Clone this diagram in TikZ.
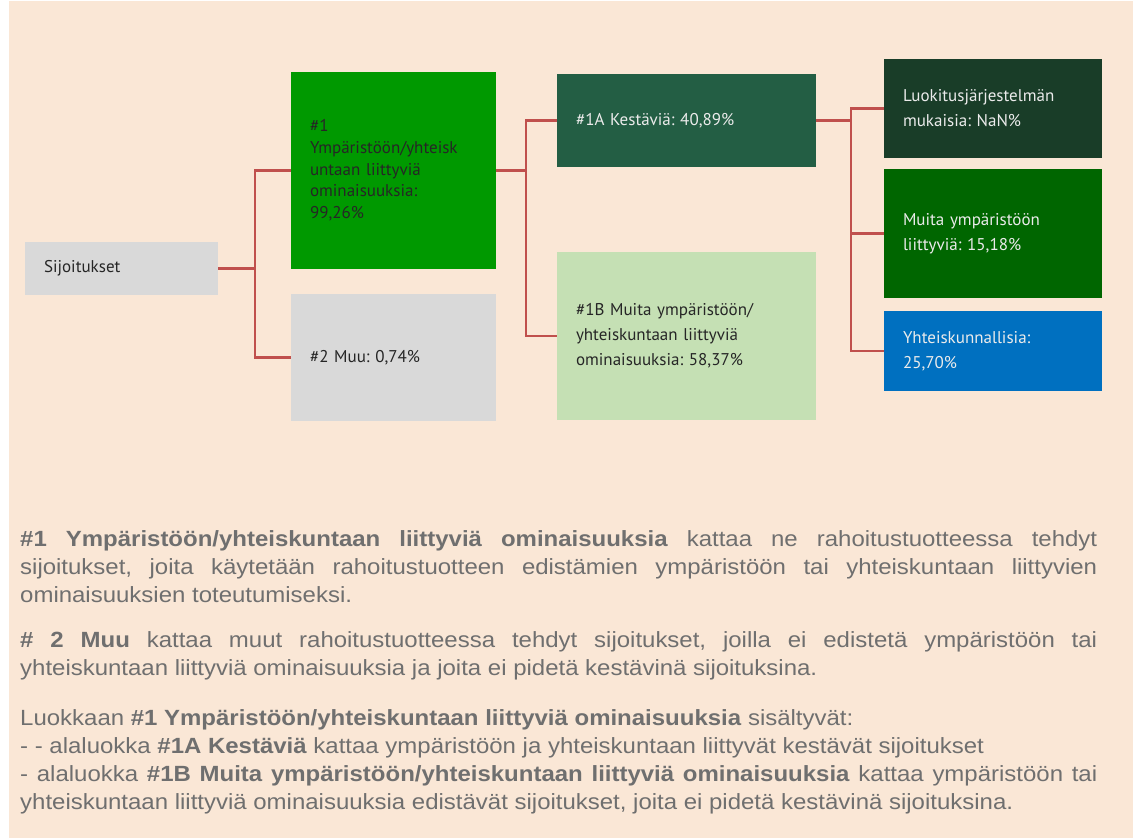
\documentclass[tikz,border=0pt]{standalone}
\usepackage{fontspec}
\usepackage{tikz}
\usetikzlibrary{positioning}
\setmainfont{Liberation Sans}[FakeStretch=1.09]
\newfontfamily\boxfont{PT Sans}
\setlength{\parindent}{0pt}
\frenchspacing

\definecolor{paper}{HTML}{FAE7D6}
\definecolor{boxgray}{HTML}{D9D9D9}
\definecolor{catgreen}{HTML}{009900}
\definecolor{sustgreen}{HTML}{235E44}
\definecolor{lightgreen}{HTML}{C5E0B4}
\definecolor{taxgreen}{HTML}{193D28}
\definecolor{envgreen}{HTML}{006600}
\definecolor{socialblue}{HTML}{0070C0}
\definecolor{linkred}{HTML}{C0504D}
\definecolor{notegray}{HTML}{6F6F6F}

\begin{document}
\begin{tikzpicture}[x=1pt, y=1pt,
      on grid,
      box/.style={rectangle, inner xsep=19pt, inner ysep=0pt,
        align=left, font=\boxfont\fontsize{17}{25}\selectfont},
      darktext/.style={text=black!85},
      lighttext/.style={text=white!92!black},
      link/.style={draw=linkred, line width=2.2pt}]

    % background and margins
    \useasboundingbox (0,0) rectangle (1136,-838);
    \fill[paper] (9,-1) rectangle (1133,-838);

    \node[box, darktext, fill=boxgray, text width=155pt, minimum height=53pt]
      (Investments) at (121.5,-268.5) {Sijoitukset};
    \node[box, darktext, fill=catgreen, text width=167pt, minimum height=197pt,
        font=\boxfont\fontsize{17}{21.7}\selectfont]
      (Category1) [above right=98pt and 272pt of Investments]
      {\#1\\Ympäristöön/yhteisk\\untaan liittyviä\\ominaisuuksia:\\99,26\%};
    \node[box, darktext, fill=boxgray, text width=167pt, minimum height=127pt]
      (Category2) [below=187pt of Category1] {\#2 Muu: 0,74\%};
    \node[box, lighttext, fill=sustgreen, text width=221pt, minimum height=93pt]
      (Sustainable) [above right=50pt and 293pt of Category1] {\#1A Kestäviä: 40,89\%};
    \node[box, darktext, fill=lightgreen, text width=221pt, minimum height=168pt]
      (OtherES) [below=215.5pt of Sustainable]
      {\#1B Muita ympäristöön/\\yhteiskuntaan liittyviä\\ominaisuuksia: 58,37\%};
    \node[box, lighttext, fill=taxgreen, text width=180pt, minimum height=99pt]
      (Taxonomy) [above right=12pt and 306.5pt of Sustainable]
      {Luokitusjärjestelmän\\mukaisia: NaN\%};
    \node[box, lighttext, fill=envgreen, text width=180pt, minimum height=129pt]
      (OtherEnv) [below=125pt of Taxonomy] {Muita ympäristöön\\liittyviä: 15,18\%};
    \node[box, lighttext, fill=socialblue, text width=180pt, minimum height=80pt]
      (Social) [below=242.5pt of Taxonomy] {Yhteiskunnallisia:\\25,70\%};

    % elbow connectors
    \draw[link] (Investments.east) -- ++(37,0) coordinate (ForkA) |- (Category1.west);
    \draw[link] (ForkA) |- (Category2.west);
    \draw[link] (Category1.east) -- ++(30,0) coordinate (ForkB) |- (Sustainable.west);
    \draw[link] (ForkB) |- (OtherES.west);
    \draw[link] (Sustainable.east) -- ++(35,0) coordinate (ForkC) |- (Taxonomy.west);
    \draw[link] (ForkC) |- (OtherEnv.west);
    \draw[link] (ForkC) |- (Social.west);

    % explanation below the chart
    \node[anchor=north west, inner sep=0pt, text width=1077pt, align=justify,
        text=notegray, font=\fontsize{22}{28}\selectfont]
      (Notes) at (20,-530)
      {\textbf{\#1 Ympäristöön/yhteiskuntaan liittyviä ominaisuuksia} kattaa ne rahoitustuotteessa tehdyt\linebreak
       sijoitukset, joita käytetään rahoitustuotteen edistämien ympäristöön tai yhteiskuntaan liittyvien\linebreak
       ominaisuuksien toteutumiseksi.\par\vspace{17pt}
       \textbf{\# 2 Muu} kattaa muut rahoitustuotteessa tehdyt sijoitukset, joilla ei edistetä ympäristöön tai\linebreak
       yhteiskuntaan liittyviä ominaisuuksia ja joita ei pidetä kestävinä sijoituksina.\par\vspace{22pt}
       Luokkaan \textbf{\#1 Ympäristöön/yhteiskuntaan liittyviä ominaisuuksia} sisältyvät:\\
       - - alaluokka \textbf{\#1A Kestäviä} kattaa ympäristöön ja yhteiskuntaan liittyvät kestävät sijoitukset\\
       - alaluokka \textbf{\#1B Muita ympäristöön/yhteiskuntaan liittyviä ominaisuuksia} kattaa ympäristöön tai\linebreak
       yhteiskuntaan liittyviä ominaisuuksia edistävät sijoitukset, joita ei pidetä kestävinä sijoituksina.};

  \end{tikzpicture}
\end{document}
